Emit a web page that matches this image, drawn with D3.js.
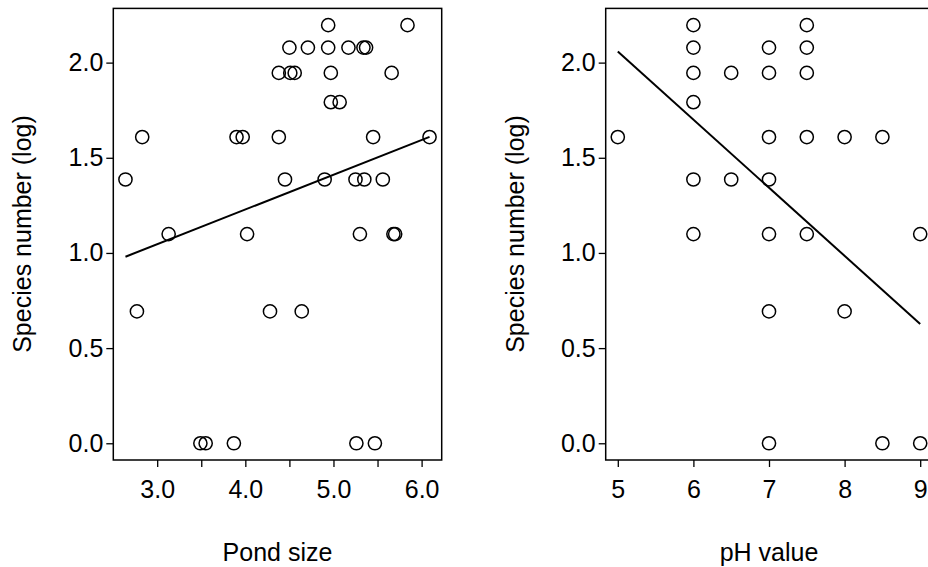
<!DOCTYPE html>
<html>
<head>
<meta charset="utf-8">
<script src="https://cdn.jsdelivr.net/npm/d3@7"></script>
<style>
  body { margin: 0; background: #fff; }
  svg { display: block; }
  text { font-family: "Liberation Sans", Arial, sans-serif; fill: #000; }
</style>
</head>
<body>
<script>
// ---- data ----
// left panel: pond size vs log species number
const pondSize = [
  4.94, 5.84,
  4.50, 4.71, 4.94, 5.17, 5.34, 5.37,
  4.38, 4.51, 4.56, 4.97, 5.66,
  4.97, 5.07,
  2.83, 3.90, 3.97, 4.38, 5.45, 6.09,
  2.64, 4.45, 4.90, 5.25, 5.35, 5.56,
  3.13, 4.02, 5.30, 5.68, 5.70,
  2.77, 4.28, 4.64,
  3.49, 3.55, 3.87, 5.26, 5.47
];
const pondSpecies = [
  2.197, 2.197,
  2.079, 2.079, 2.079, 2.079, 2.079, 2.079,
  1.946, 1.946, 1.946, 1.946, 1.946,
  1.792, 1.792,
  1.609, 1.609, 1.609, 1.609, 1.609, 1.609,
  1.386, 1.386, 1.386, 1.386, 1.386, 1.386,
  1.099, 1.099, 1.099, 1.099, 1.099,
  0.693, 0.693, 0.693,
  0, 0, 0, 0, 0
];
// fitted line end points
const pondFitX = [2.64, 6.09];
const pondFitY = [0.98, 1.61];

// right panel: pH vs log species number
const phValue = [
  6, 7.5,
  6, 7, 7.5,
  6, 6.5, 7, 7.5,
  6,
  5, 7, 7.5, 8, 8.5,
  6, 6.5, 7,
  6, 7, 7.5, 9,
  7, 8,
  7, 8.5, 9
];
const phSpecies = [
  2.197, 2.197,
  2.079, 2.079, 2.079,
  1.946, 1.946, 1.946, 1.946,
  1.792,
  1.609, 1.609, 1.609, 1.609, 1.609,
  1.386, 1.386, 1.386,
  1.099, 1.099, 1.099, 1.099,
  0.693, 0.693,
  0, 0, 0
];
const phFitX = [5, 9];
const phFitY = [2.058, 0.627];

const yTicks = [0, 0.5, 1, 1.5, 2];
const pondTicks = [3, 3.5, 4, 4.5, 5, 5.5, 6];
const phTicks = [5, 6, 7, 8, 9];

const yTitle = "Species number (log)";

const width = 928, height = 567;
const fontSize = 25;

const svg = d3.select("body").append("svg")
  .attr("width", width)
  .attr("height", height);

// R style 4% padding around the data range
function padded(vals) {
  const [lo, hi] = d3.extent(vals);
  const p = (hi - lo) * 0.04;
  return [lo - p, hi + p];
}

function panel(opts) {
  const x = d3.scaleLinear().domain(padded(opts.xs)).range([opts.left, opts.right]);
  const y = d3.scaleLinear().domain(padded(opts.ys)).range([460, 8.4]);

  const g = svg.append("g");

  // y axis
  g.append("g")
    .attr("transform", `translate(${opts.left},0)`)
    .call(d3.axisLeft(y).tickValues(yTicks).tickFormat(d3.format(".1f")).tickSize(7).tickPadding(3))
    .call(a => a.select(".domain").remove())
    .call(a => a.selectAll("line").attr("stroke", "#000").attr("stroke-width", 1.3))
    .call(a => a.selectAll("text").style("font-size", fontSize + "px").attr("fill", "#000"));

  // x axis
  g.append("g")
    .attr("transform", `translate(0,460)`)
    .call(d3.axisBottom(x).tickValues(opts.ticks).tickFormat(opts.fmt).tickSize(7).tickPadding(13))
    .call(a => a.select(".domain").remove())
    .call(a => a.selectAll("line").attr("stroke", "#000").attr("stroke-width", 1.3))
    .call(a => a.selectAll("text").style("font-size", fontSize + "px").attr("fill", "#000"));

  // box
  g.append("rect")
    .attr("x", opts.left)
    .attr("y", 8.4)
    .attr("width", opts.right - opts.left)
    .attr("height", 460 - 8.4)
    .attr("fill", "none")
    .attr("stroke", "#000")
    .attr("stroke-width", 1.5);

  // points
  g.append("g")
    .selectAll("circle")
    .data(opts.xs.map((d, i) => [d, opts.ys[i]]))
    .enter().append("circle")
    .attr("cx", d => x(d[0]))
    .attr("cy", d => y(d[1]))
    .attr("r", 6.6)
    .attr("fill", "none")
    .attr("stroke", "#000")
    .attr("stroke-width", 1.5);

  // fitted line
  g.append("line")
    .attr("x1", x(opts.fitX[0]))
    .attr("y1", y(opts.fitY[0]))
    .attr("x2", x(opts.fitX[1]))
    .attr("y2", y(opts.fitY[1]))
    .attr("stroke", "#000")
    .attr("stroke-width", 2);

  // titles
  g.append("text")
    .attr("x", (opts.left + opts.right) / 2)
    .attr("y", 561)
    .attr("text-anchor", "middle")
    .style("font-size", fontSize + "px")
    .text(opts.xTitle);

  g.append("text")
    .attr("transform", `translate(${opts.left - 82},234) rotate(-90)`)
    .attr("text-anchor", "middle")
    .style("font-size", fontSize + "px")
    .text(yTitle);
}

panel({
  xs: pondSize, ys: pondSpecies, fitX: pondFitX, fitY: pondFitY,
  left: 113.3, right: 441.7, ticks: pondTicks,
  fmt: d => (d % 1 === 0 ? d3.format(".1f")(d) : ""),
  xTitle: "Pond size"
});

panel({
  xs: phValue, ys: phSpecies, fitX: phFitX, fitY: phFitY,
  left: 605.7, right: 932.3, ticks: phTicks,
  fmt: d3.format("d"),
  xTitle: "pH value"
});
</script>
</body>
</html>
